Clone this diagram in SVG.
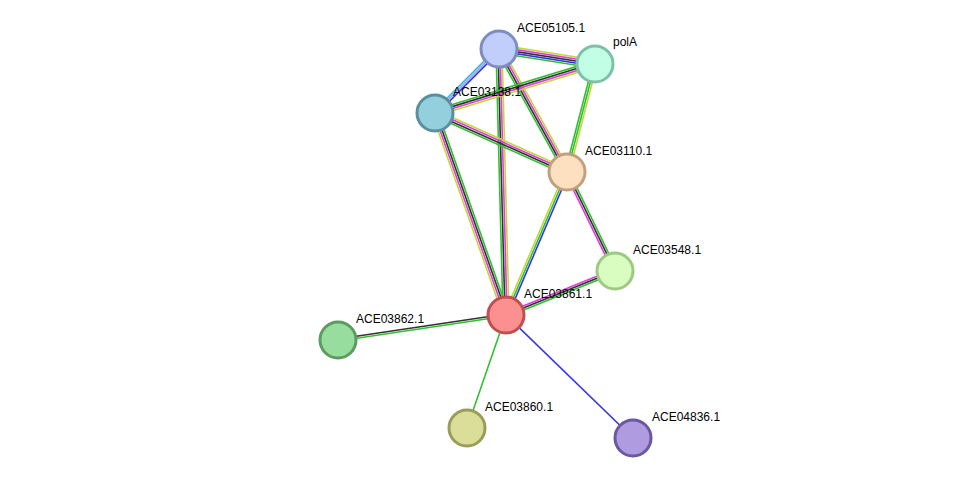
<svg xmlns="http://www.w3.org/2000/svg" width="976" height="484" viewBox="0 0 976 484">
<style>
line{stroke-width:1.6;fill:none}
.y{stroke:#c2d83a}.m{stroke:#de3cde}.k{stroke:#333}.g{stroke:#33c033}.b{stroke:#3333ee}.c{stroke:#33bbdd}.p{stroke:#9a9af0}
circle{stroke-width:3}
text{font-family:"Liberation Sans",Arial,sans-serif;font-size:12px;fill:#000}
</style>
<rect width="976" height="484" fill="#fff"/>
<g id="edges">
<g transform="translate(499,49) rotate(8.88)"><line class="y" x1="0" y1="-4" x2="97" y2="-4"/><line class="m" x1="0" y1="-2" x2="97" y2="-2"/><line class="k" x1="0" y1="0" x2="97" y2="0"/><line class="b" x1="0" y1="2" x2="97" y2="2"/><line class="g" x1="0" y1="4" x2="97" y2="4"/></g>
<g transform="translate(499,49) rotate(135)"><line class="b" x1="0" y1="-2" x2="90" y2="-2"/><line class="p" x1="0" y1="0" x2="90" y2="0"/><line class="c" x1="0" y1="2" x2="90" y2="2"/></g>
<g transform="translate(499,49) rotate(61.05)"><line class="y" x1="0" y1="-3" x2="140" y2="-3"/><line class="m" x1="0" y1="-1" x2="140" y2="-1"/><line class="k" x1="0" y1="1" x2="140" y2="1"/><line class="g" x1="0" y1="3" x2="140" y2="3"/></g>
<g transform="translate(499,49) rotate(88.49)"><line class="y" x1="0" y1="-3" x2="266" y2="-3"/><line class="m" x1="0" y1="-1" x2="266" y2="-1"/><line class="k" x1="0" y1="1" x2="266" y2="1"/><line class="g" x1="0" y1="3" x2="266" y2="3"/></g>
<g transform="translate(595,64) rotate(163)"><line class="y" x1="0" y1="-3" x2="167" y2="-3"/><line class="m" x1="0" y1="-1" x2="167" y2="-1"/><line class="k" x1="0" y1="1" x2="167" y2="1"/><line class="g" x1="0" y1="3" x2="167" y2="3"/></g>
<g transform="translate(595,64) rotate(104.5)"><line class="y" x1="0" y1="-2" x2="111" y2="-2"/><line class="g" x1="0" y1="0" x2="111" y2="0"/><line class="g" x1="0" y1="2" x2="111" y2="2"/></g>
<g transform="translate(435,113) rotate(24.08)"><line class="y" x1="0" y1="-3" x2="144" y2="-3"/><line class="m" x1="0" y1="-1" x2="144" y2="-1"/><line class="k" x1="0" y1="1" x2="144" y2="1"/><line class="g" x1="0" y1="3" x2="144" y2="3"/></g>
<g transform="translate(435,113) rotate(70.63)"><line class="g" x1="0" y1="-3" x2="214" y2="-3"/><line class="k" x1="0" y1="-1" x2="214" y2="-1"/><line class="m" x1="0" y1="1" x2="214" y2="1"/><line class="y" x1="0" y1="3" x2="214" y2="3"/></g>
<g transform="translate(567,172) rotate(113.1)"><line class="b" x1="0" y1="-2" x2="155" y2="-2"/><line class="g" x1="0" y1="0" x2="155" y2="0"/><line class="y" x1="0" y1="2" x2="155" y2="2"/></g>
<g transform="translate(567,172) rotate(64.1)"><line class="g" x1="0" y1="-2" x2="110" y2="-2"/><line class="k" x1="0" y1="0" x2="110" y2="0"/><line class="m" x1="0" y1="2" x2="110" y2="2"/></g>
<g transform="translate(615,271) rotate(158)"><line class="g" x1="0" y1="-2" x2="117" y2="-2"/><line class="k" x1="0" y1="0" x2="117" y2="0"/><line class="m" x1="0" y1="2" x2="117" y2="2"/></g>
<g transform="translate(338,340) rotate(-8.46)"><line class="k" x1="0" y1="-1" x2="170" y2="-1"/><line class="g" x1="0" y1="1" x2="170" y2="1"/></g>
<line class="g" x1="467" y1="428" x2="506" y2="315"/>
<line class="b" x1="633" y1="438" x2="506" y2="315"/>
</g>
<g id="ACE05105.1"><circle cx="499" cy="49" r="18" fill="#c1cdfb" stroke="#7d8dc0"/><text x="517" y="32">ACE05105.1</text></g>
<g id="polA"><circle cx="595" cy="64" r="18" fill="#c2fde6" stroke="#80c0a8"/><text x="613" y="46">polA</text></g>
<g id="ACE03138.1"><circle cx="435" cy="113" r="18" fill="#93cfdd" stroke="#5a8fa0"/><text x="453" y="96">ACE03138.1</text></g>
<g id="ACE03110.1"><circle cx="567" cy="172" r="18" fill="#fde0c0" stroke="#c0a080"/><text x="585" y="155">ACE03110.1</text></g>
<g id="ACE03548.1"><circle cx="615" cy="271" r="18" fill="#d9fdc0" stroke="#9fc880"/><text x="633" y="254">ACE03548.1</text></g>
<g id="ACE03861.1"><circle cx="506" cy="315" r="18" fill="#fc8f8f" stroke="#c05050"/><text x="524" y="298">ACE03861.1</text></g>
<g id="ACE03862.1"><circle cx="338" cy="340" r="18" fill="#97de9e" stroke="#5c9c60"/><text x="356" y="323">ACE03862.1</text></g>
<g id="ACE03860.1"><circle cx="467" cy="428" r="18" fill="#dbde98" stroke="#9a9c5a"/><text x="485" y="411">ACE03860.1</text></g>
<g id="ACE04836.1"><circle cx="633" cy="438" r="18" fill="#ae9be0" stroke="#6a58a0"/><text x="652" y="421">ACE04836.1</text></g>
</svg>
